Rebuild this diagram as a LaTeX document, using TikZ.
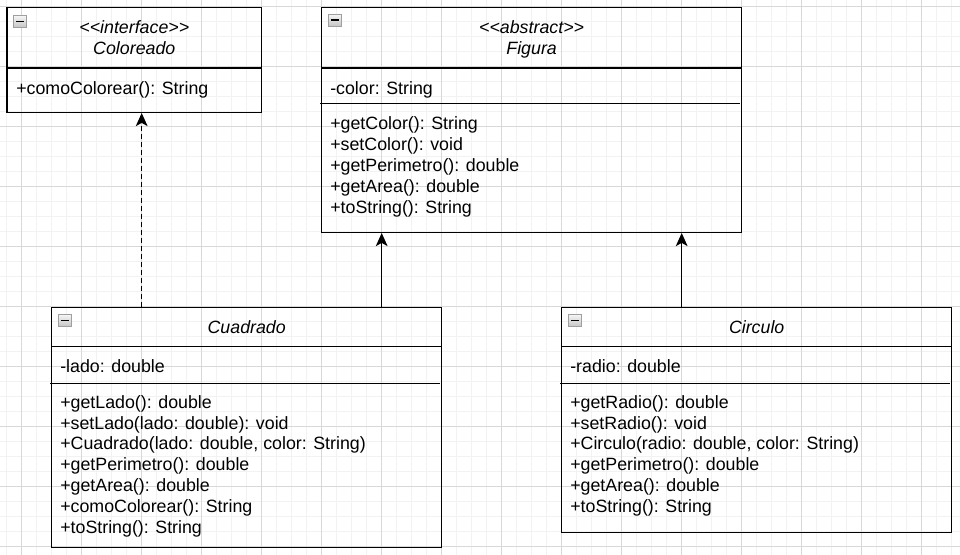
\documentclass[tikz,border=0pt]{standalone}
\usepackage{fontspec}
\setmainfont{Liberation Sans}
\usetikzlibrary{arrows.meta,fit}
\definecolor{gridminor}{HTML}{F2F2F2}
\definecolor{gridmajor}{HTML}{D8D8D8}
\newcommand\stOpen{<\kern0pt<}
\newcommand\stClose{>\kern0pt>}
\tikzset{
  classbox/.style={draw=black, line width=1.1pt, inner sep=0pt},
  sepline/.style={draw=black, line width=1.1pt},
  member/.style={anchor=base west, inner sep=0pt, font=\fontsize{13.35pt}{15.6pt}\selectfont},
  title/.style={anchor=base, inner sep=0pt, font=\fontsize{13.35pt}{15.6pt}\selectfont\itshape},
  minorline/.style={draw=gridminor, line width=0.75pt},
  majorline/.style={draw=gridmajor, line width=0.75pt},
  inherit/.style={draw=black, line width=1.1pt, -{Stealth[length=9.8pt,width=8.8pt,inset=2.4pt]}},
  realize/.style={inherit, dash pattern=on 3.6pt off 2.4pt},
  collapse/.style={draw=gray!75, line width=0.6pt, top color=gray!8, bottom color=gray!45,
    minimum width=9.6pt, minimum height=8.8pt, inner sep=0pt,
    path picture={\draw[black, line width=1.1pt]
      ([xshift=1.8pt]path picture bounding box.west) -- ([xshift=-1.8pt]path picture bounding box.east);}}
}
\begin{document}
\begin{tikzpicture}[x=0.75pt,y=-0.75pt]
\useasboundingbox (0,0) rectangle (960,555);
\fill[white] (0,0) rectangle (960,555);
% grid
\foreach \k in {0,...,63} \draw[minorline] (6.7+15*\k,0) -- (6.7+15*\k,555);
\foreach \k in {0,...,36} \draw[minorline] (0,6.7+15*\k) -- (960,6.7+15*\k);
\foreach \k in {0,...,15} \draw[majorline] (21.7+60*\k,0) -- (21.7+60*\k,555);
\foreach \k in {0,...,9} \draw[majorline] (0,6.7+60*\k) -- (960,6.7+60*\k);

% class boxes
\coordinate (colorTL) at (7,7.3);      \coordinate (colorBR) at (261.7,112.3);
\coordinate (figTL) at (321.5,7.3);    \coordinate (figBR) at (741.7,232.3);
\coordinate (cuadTL) at (51.7,307.7);  \coordinate (cuadBR) at (441.7,547.3);
\coordinate (circTL) at (561.7,307.7); \coordinate (circBR) at (951.7,532.3);
\node[classbox, fit=(colorTL)(colorBR)] (color) {};
\node[classbox, fit=(figTL)(figBR)] (fig) {};
\node[classbox, fit=(cuadTL)(cuadBR)] (cuad) {};
\node[classbox, fit=(circTL)(circBR)] (circ) {};

% separators
\draw[sepline] (7,67.8) -- (261.7,67.8);
\draw[sepline] (321.5,67.8) -- (741.7,67.8);
\draw[sepline] (320,103.3) -- (740.2,103.3);
\draw[sepline] (51.7,346.7) -- (441.7,346.7);
\draw[sepline] (50.2,383.3) -- (440.2,383.3);
\draw[sepline] (561.7,346.7) -- (951.7,346.7);
\draw[sepline] (560.2,383.3) -- (950.2,383.3);

% collapse icons
\node[collapse] (colorIcon) at ([shift={(13.8,15)}]color.north west) {};
\node[collapse] (figIcon) at ([shift={(13.8,13.5)}]fig.north west) {};
\node[collapse] (cuadIcon) at ([shift={(13.8,13.5)}]cuad.north west) {};
\node[collapse] (circIcon) at ([shift={(13.8,13.5)}]circ.north west) {};

% Coloreado
\node[title] (colorSt) at (134.3,33.5) {\stOpen interface\stClose};
\node[title] (colorName) at (134.3,54.2) {Coloreado};
\node[member] (colorM0) at (16,94.3) {+comoColorear(): String};

% Figura
\node[title] (figSt) at (531.6,33.5) {\stOpen abstract\stClose};
\node[title] (figName) at (531.6,54.2) {Figura};
\node[member] (figA0) at (330,94.3) {-color: String};
\foreach \t [count=\i from 0] in {+getColor(): String, +setColor(): void, +getPerimetro(): double, +getArea(): double, +toString(): String}
  \node[member] (figM\i) at (330,130+20.8*\i) {\t};

% Cuadrado
\node[title] (cuadName) at (246.7,333.3) {Cuadrado};
\node[member] (cuadA0) at (60,372.3) {-lado: double};
\foreach \t [count=\i from 0] in {+getLado(): double, {+setLado(lado: double): void}, {+Cuadrado(lado: double, color: String)}, +getPerimetro(): double, +getArea(): double, +comoColorear(): String, +toString(): String}
  \node[member] (cuadM\i) at (60,408.4+20.8*\i) {\t};

% Circulo
\node[title] (circName) at (756.7,333.3) {Circulo};
\node[member] (circA0) at (570,372.3) {-radio: double};
\foreach \t [count=\i from 0] in {+getRadio(): double, +setRadio(): void, {+Circulo(radio: double, color: String)}, +getPerimetro(): double, +getArea(): double, +toString(): String}
  \node[member] (circM\i) at (570,408.4+20.8*\i) {\t};

% connectors
\coordinate (a1) at (141.7,0);
\coordinate (a2) at (381.7,0);
\coordinate (a3) at (681.7,0);
\draw[realize] (cuad.north -| a1) -- (color.south -| a1);
\draw[inherit] (cuad.north -| a2) -- (fig.south -| a2);
\draw[inherit] (circ.north -| a3) -- (fig.south -| a3);
\end{tikzpicture}
\end{document}
